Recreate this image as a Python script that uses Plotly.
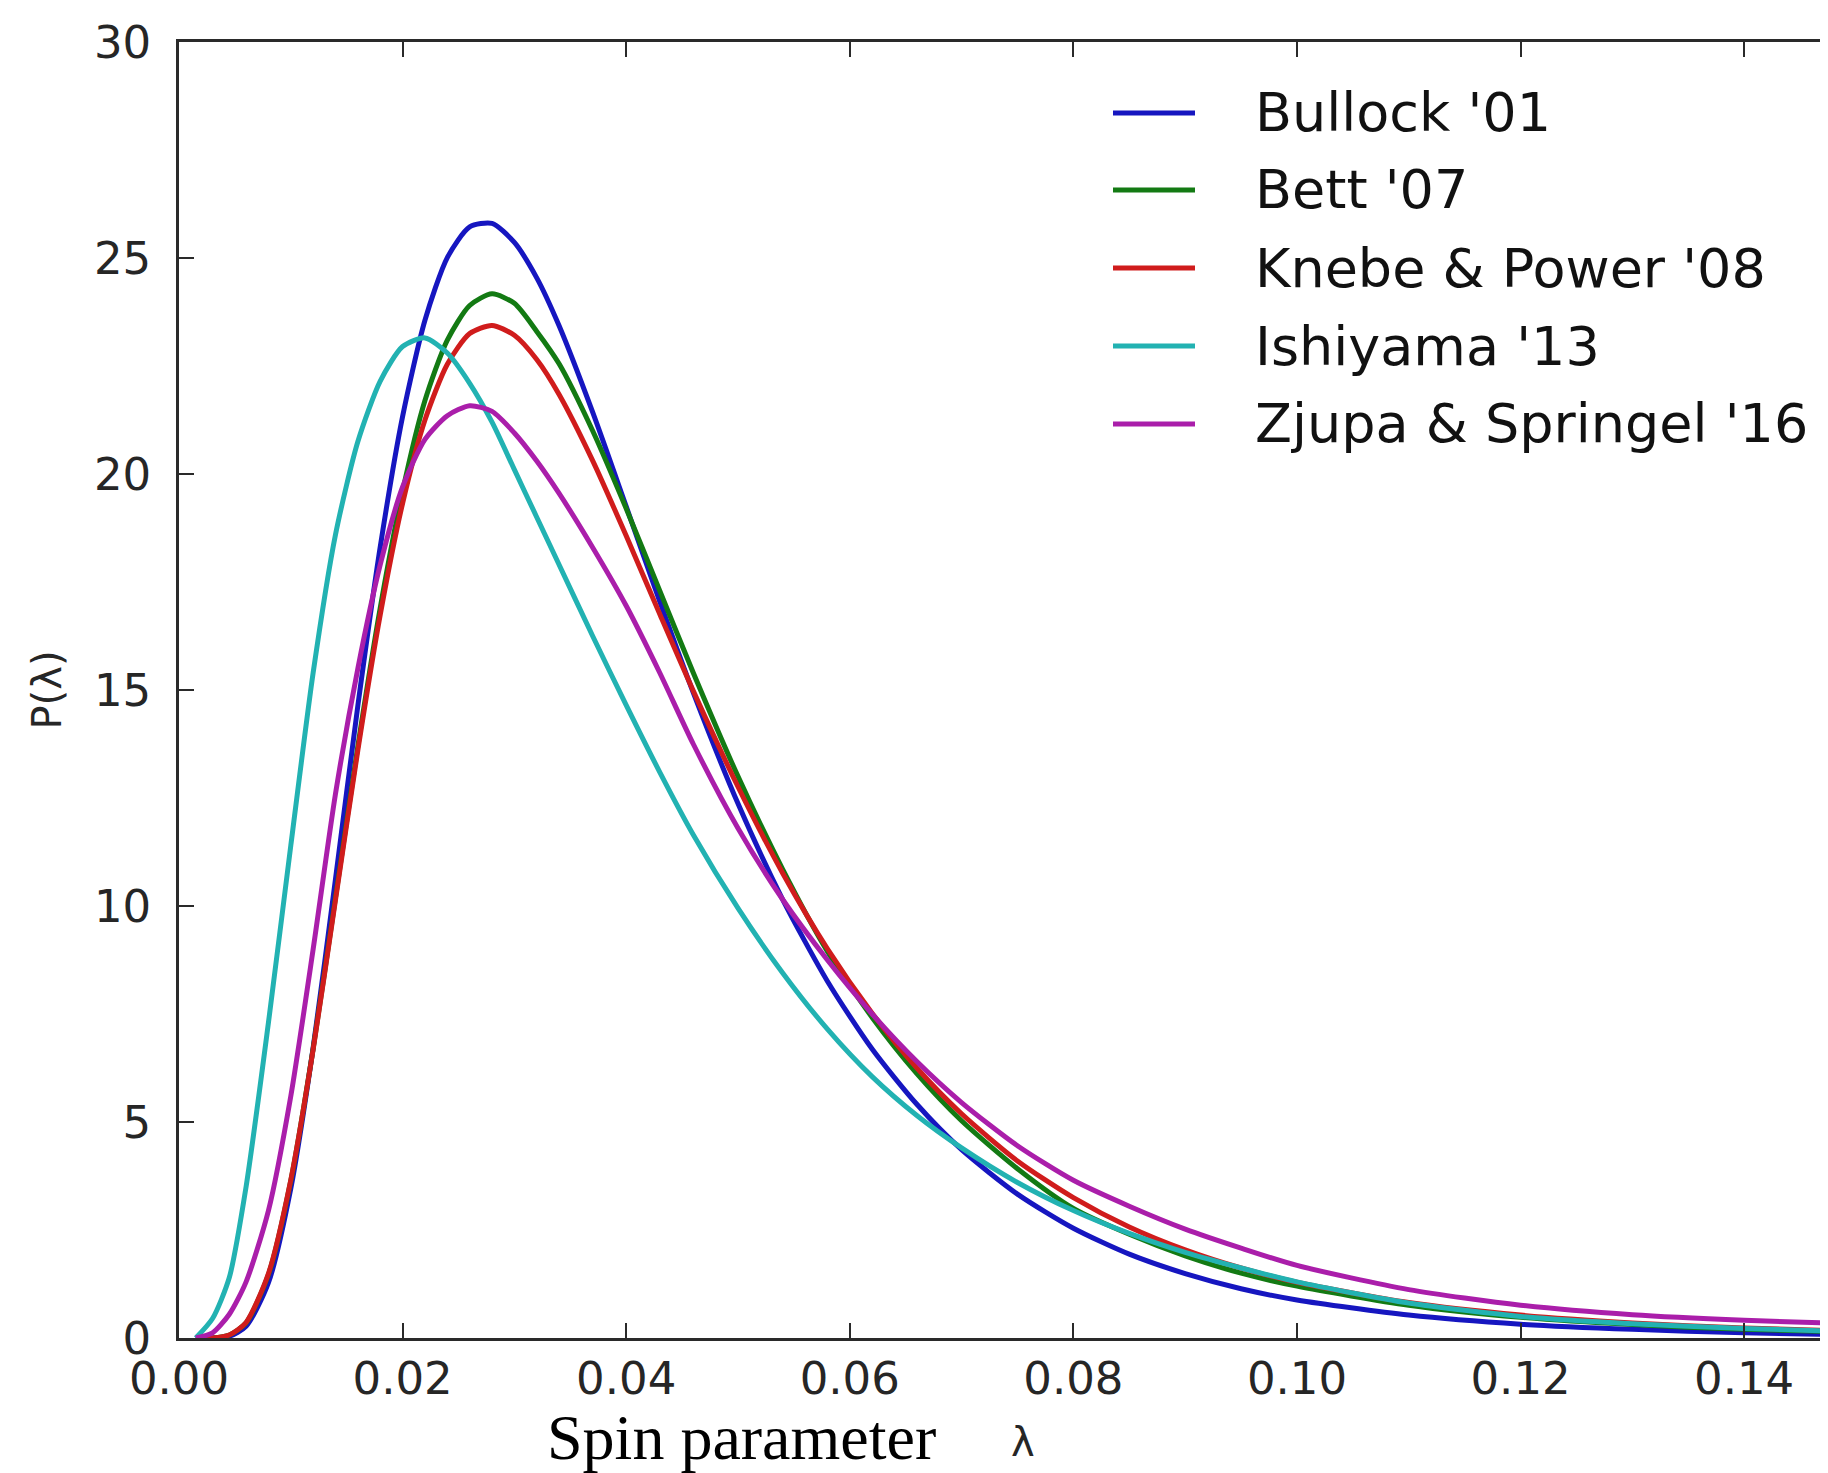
import plotly.graph_objects as go

# ---- data ----
lam = [0.0015, 0.003, 0.0045, 0.006, 0.008, 0.010, 0.012, 0.014, 0.016, 0.018,
       0.020, 0.022, 0.024, 0.026, 0.028, 0.030, 0.032, 0.034, 0.037, 0.040,
       0.043, 0.046, 0.050, 0.054, 0.058, 0.062, 0.066, 0.070, 0.075, 0.080,
       0.085, 0.090, 0.095, 0.100, 0.110, 0.120, 0.130, 0.140, 0.148]

bullock01 = [0.0, 0.0, 0.04, 0.27, 1.28, 3.46, 6.72, 10.63, 14.64, 18.31,
             21.33, 23.56, 25.01, 25.72, 25.80, 25.36, 24.54, 23.43, 21.43, 19.25,
             17.05, 14.94, 12.37, 10.15, 8.26, 6.69, 5.41, 4.36, 3.33, 2.54,
             1.94, 1.49, 1.14, 0.88, 0.53, 0.32, 0.20, 0.12, 0.08]

bett07 = [0.0, 0.0, 0.07, 0.35, 1.47, 3.64, 6.70, 10.2, 13.7, 16.9,
          19.6, 21.7, 23.1, 23.9, 24.17, 23.95, 23.3, 22.55, 21.0, 19.2,
          17.3, 15.4, 13.0, 10.85, 8.95, 7.42, 6.12, 5.03, 3.92, 3.0,
          2.4, 1.9, 1.5, 1.2, 0.76, 0.48, 0.31, 0.2, 0.15]

knebe_power08 = [0.0, 0.0, 0.07, 0.36, 1.49, 3.66, 6.68, 10.15, 13.61, 16.74,
                 19.32, 21.25, 22.54, 23.25, 23.44, 23.21, 22.65, 21.84, 20.31, 18.57,
                 16.76, 14.98, 12.76, 10.76, 9.01, 7.52, 6.25, 5.19, 4.10, 3.25,
                 2.57, 2.04, 1.62, 1.29, 0.82, 0.53, 0.35, 0.23, 0.17]

ishiyama13 = [0.0, 0.45, 1.4, 3.5, 7.3, 11.4, 15.4, 18.6, 20.75, 22.15,
              22.95, 23.15, 22.8, 22.1, 21.2, 20.1, 19.0, 17.9, 16.25, 14.65,
              13.1, 11.65, 9.95, 8.45, 7.15, 6.05, 5.15, 4.4, 3.6, 2.95,
              2.42, 1.98, 1.62, 1.3, 0.81, 0.5, 0.33, 0.22, 0.16]

zjupa_springel16 = [0.0, 0.12, 0.55, 1.3, 2.95, 5.6, 9.0, 12.6, 15.5, 17.9,
                    19.7, 20.8, 21.35, 21.58, 21.45, 20.95, 20.3, 19.55, 18.3, 16.95,
                    15.4, 13.75, 11.8, 10.15, 8.75, 7.5, 6.4, 5.45, 4.45, 3.65,
                    3.05, 2.52, 2.08, 1.68, 1.12, 0.76, 0.54, 0.41, 0.34]

names = ["Bullock '01", "Bett '07", "Knebe & Power '08", "Ishiyama '13", "Zjupa & Springel '16"]
series = [bullock01, bett07, knebe_power08, ishiyama13, zjupa_springel16]
colors = ["#1616c0", "#137a13", "#d01c1c", "#22b2b2", "#aa1eaa"]

x_ticks = [0.00, 0.02, 0.04, 0.06, 0.08, 0.10, 0.12, 0.14]
x_ticklabels = ["0.00", "0.02", "0.04", "0.06", "0.08", "0.10", "0.12", "0.14"]
y_ticks = [0, 5, 10, 15, 20, 25, 30]
y_ticklabels = ["0", "5", "10", "15", "20", "25", "30"]

# ---- figure geometry (page body has an 8px margin) ----
OFF = 8
W, H = 1820, 1465
L, R, T, B = 171, 0, 34, 135
pw, ph = W - L - R, H - T - B

def px(page_x):
    return (page_x - OFF - L) / pw

def py(page_y):
    return (H - B - (page_y - OFF)) / ph

fig = go.Figure()
for name, ys, col in zip(names, series, colors):
    fig.add_trace(go.Scatter(
        x=lam, y=ys, mode="lines", name=name, showlegend=False,
        line=dict(color=col, width=5, shape="spline", smoothing=0.7),
    ))

axis_common = dict(
    showgrid=False, zeroline=False, showline=True, linecolor="#2a2a2a", linewidth=2.5,
    ticks="inside", ticklen=15, tickwidth=2, tickcolor="#2a2a2a",
    tickfont=dict(family="DejaVu Sans", size=45, color="#262626"),
)

fig.update_layout(
    width=W, height=H, autosize=False,
    margin=dict(l=L, r=R, t=T, b=B, pad=0),
    paper_bgcolor="white", plot_bgcolor="white",
    xaxis=dict(range=[0, 0.1475], tickvals=x_ticks, ticktext=x_ticklabels,
               mirror="ticks", ticklabelstandoff=-1, **axis_common),
    yaxis=dict(range=[0, 30], tickvals=y_ticks, ticktext=y_ticklabels,
               mirror=False, ticklabelstandoff=16,
               title=dict(text="P(λ)", standoff=20,
                          font=dict(family="DejaVu Sans", size=40, color="#262626")),
               **axis_common),
    showlegend=False,
)

# x-axis label (serif text followed by the original lambda symbol)
fig.add_annotation(xref="paper", yref="paper", x=px(741), y=py(1437),
                   text="Spin parameter", showarrow=False, xanchor="center", yanchor="middle",
                   font=dict(family="Liberation Serif", size=64, color="black"))
fig.add_annotation(xref="paper", yref="paper", x=px(1023), y=py(1442),
                   text="λ", showarrow=False, xanchor="center", yanchor="middle",
                   font=dict(family="DejaVu Sans", size=40, color="#262626"))

# legend (inside, upper right)
row_y = [113, 190, 268, 346, 424]
for name, col, yf in zip(names, colors, row_y):
    fig.add_shape(type="line", xref="paper", yref="paper",
                  x0=px(1113), x1=px(1195), y0=py(yf), y1=py(yf),
                  line=dict(color=col, width=5))
    fig.add_annotation(xref="paper", yref="paper", x=px(1253), y=py(yf),
                       text=name, showarrow=False, xanchor="left", yanchor="middle",
                       font=dict(family="DejaVu Sans", size=54, color="#111111"))

fig.write_html("out.html")
